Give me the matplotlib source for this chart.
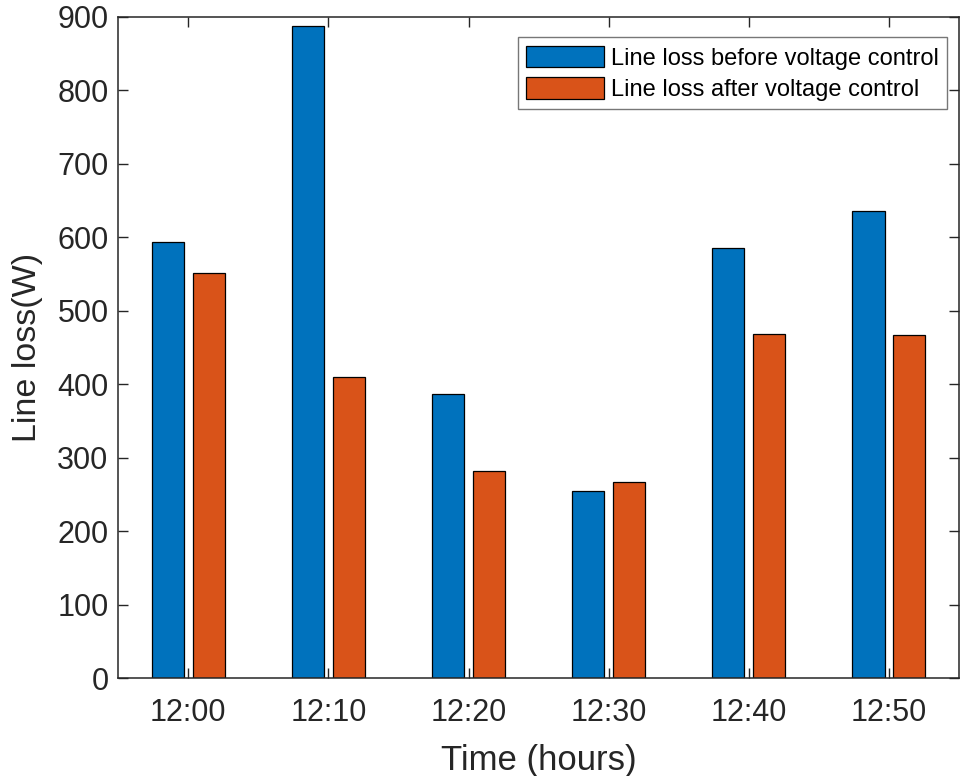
import numpy as np
import matplotlib.pyplot as plt

plt.rcParams['font.family'] = ['Liberation Sans', 'DejaVu Sans']

# line loss per 10-minute slot (W)
times = ['12:00', '12:10', '12:20', '12:30', '12:40', '12:50']
loss_before = [594, 887, 387, 255, 586, 636]
loss_after = [552, 410, 282, 267, 468, 467]

blue = '#0072BD'
orange = '#D95319'
axcol = '#262626'

W, H = 961, 776
fig = plt.figure(figsize=(W / 100, H / 100), dpi=100)
ax_l, ax_r, ax_t, ax_b = 118.3, 959.0, 16.7, 678.3
ax = fig.add_axes([ax_l / W, 1 - ax_b / H, (ax_r - ax_l) / W, (ax_b - ax_t) / H])

x = np.arange(1, len(times) + 1)
w = 0.229
off = 0.146
ax.bar(x - off, loss_before, w, color=blue, edgecolor='black', linewidth=0.9,
       label='Line loss before voltage control')
ax.bar(x + off, loss_after, w, color=orange, edgecolor='black', linewidth=0.9,
       label='Line loss after voltage control')

ax.set_xlim(0.5, 6.5)
ax.set_ylim(0, 900)
ax.set_xticks(x)
ax.set_xticklabels(times)
ax.set_yticks(np.arange(0, 901, 100))

ax.tick_params(direction='in', length=7, width=1, colors=axcol, labelsize=22,
               top=True, right=True, pad=7)
ax.tick_params(axis='x', pad=14)
for s in ax.spines.values():
    s.set_color(axcol)
    s.set_linewidth(1.1)

ax.set_xlabel('Time (hours)', fontsize=25, color=axcol, labelpad=12)
ax.set_ylabel('Line loss(W)', fontsize=24.5, color=axcol, labelpad=10)

# legend box: right edge at x=947px, top at y=37px
anchor = ((947 - ax_l) / (ax_r - ax_l), 1 - (37.3 - ax_t) / (ax_b - ax_t))
leg = ax.legend(loc='upper right', fontsize=17, frameon=True, fancybox=False,
                edgecolor='#555555', borderpad=0.35, handlelength=3.3,
                handleheight=1.05, handletextpad=0.3, labelspacing=0.3,
                borderaxespad=0.0, bbox_to_anchor=anchor,
                bbox_transform=ax.transAxes)
leg.get_frame().set_linewidth(1.0)

fig.savefig('out.png', dpi=100)
